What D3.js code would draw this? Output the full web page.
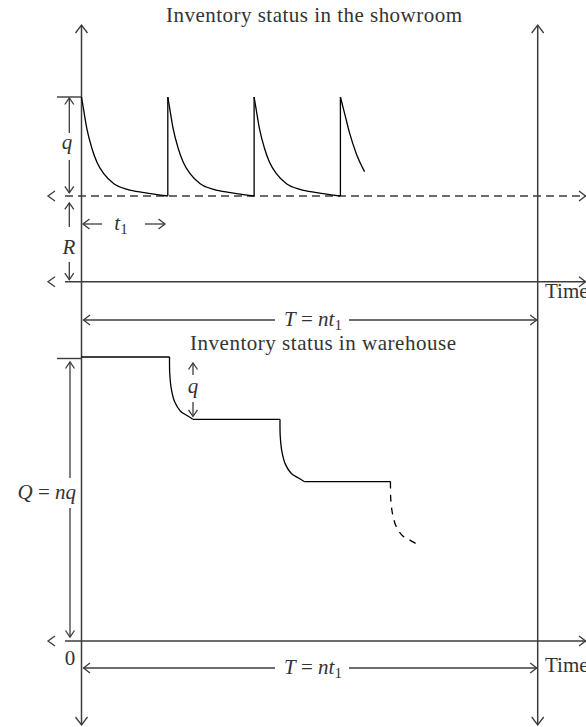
<!DOCTYPE html>
<html lang="en">
<head>
<meta charset="UTF-8">
<title>Inventory status</title>
<script src="https://d3js.org/d3.v7.min.js"></script>
<style>
  body { margin: 0; background: #fff; }
  svg { display: block; }
  text { font-family: 'Liberation Serif', 'Times New Roman', serif; fill: #333; font-size: 21px; }
  .it { font-style: italic; }
</style>
</head>
<body>
<svg id="chart" width="586" height="727"></svg>
<script>
// --- data ---
// time in units of t1, stock in units of q
const T_END = 5.286;            // T = n t1
const R_LEVEL = 0.866;          // reorder level in the showroom
const Q_ORDER = 1;              // lot size q
const showroomCycles = [0, 1, 2];   // full saw-teeth start here
const decayT = [0, 0.023, 0.062, 0.121, 0.179, 0.258, 0.375, 0.531, 0.727, 1];
const decayH = [1, 0.88, 0.68, 0.48, 0.34, 0.225, 0.124, 0.067, 0.034, 0];
const lastCycleStart = 3;
const lastT = [0, 0.047, 0.105, 0.183, 0.28];
const lastH = [1, 0.84, 0.64, 0.43, 0.246];

const WH_TOTAL = 4.56;          // Q = nq
const whLevels = [4.56, 3.56, 2.56, 1.56];
const whDropStart = [1.02, 2.30, 3.58];
const whDropLen = [0.27, 0.28, 0.30];
const dropDx = [0, 0.01, 0.08, 0.22, 0.47, 0.75, 1];
const dropDy = [0, 0.27, 0.52, 0.72, 0.87, 0.94, 1];

// --- scales ---
const x = d3.scaleLinear().domain([0, T_END]).range([81.5, 537.7]);
const yS = d3.scaleLinear().domain([0, R_LEVEL + Q_ORDER]).range([281.7, 97]);
const yW = d3.scaleLinear().domain([0, WH_TOTAL]).range([641, 357]);

const svg = d3.select('#chart');
const axisColor = '#3c3c3c';

// open chevron arrow head, tip at (px,py), pointing at angle deg (0 = right)
const chevron = (px, py, angle, half = 5, len = 6.5) => {
    svg.append('path')
        .attr('d', `M${-len},${-half}L0,0L${-len},${half}`)
        .attr('transform', `translate(${px},${py}) rotate(${angle})`)
        .attr('fill', 'none')
        .attr('stroke', axisColor)
        .attr('stroke-width', 1.3);
};

const seg = (x1, y1, x2, y2, w = 1.4, color = axisColor, dash = null) => {
    svg.append('line')
        .attr('x1', x1).attr('y1', y1).attr('x2', x2).attr('y2', y2)
        .attr('stroke', color).attr('stroke-width', w)
        .attr('stroke-dasharray', dash);
};

// --- axes ---
const x0 = x(0), xT = x(T_END);
[x0, xT].forEach(v => {
    seg(v, 25, v, 725, 1.5);
    chevron(v, 25, -90, 6, 8);
    chevron(v, 725, 90, 6, 8);
});

// horizontal axes: showroom time axis, reorder line, warehouse time axis
const hAxes = [
    { y: yS(0), dash: null },
    { y: yS(R_LEVEL), dash: '8,5' },
    { y: yW(0), dash: null }
];
hAxes.forEach(a => {
    seg(65, a.y, 586, a.y, 1.5, axisColor, a.dash);
    chevron(585.5, a.y, 0, 5, 6.5);
    chevron(48, a.y, 180, 5, 7);
});

// top ticks
seg(57, yS(R_LEVEL + Q_ORDER), x0, yS(R_LEVEL + Q_ORDER), 1.4);
seg(57, yW(WH_TOTAL) + 1.5, x0, yW(WH_TOTAL) + 1.5, 1.4);

// --- showroom saw-tooth ---
const decayLine = d3.line()
    .x(d => x(d[0]))
    .y(d => yS(R_LEVEL + d[1] * Q_ORDER))
    .curve(d3.curveMonotoneX);

showroomCycles.forEach(c => {
    const pts = decayT.map((t, i) => [c + t, decayH[i]]);
    svg.append('path').attr('d', decayLine(pts))
        .attr('fill', 'none').attr('stroke', '#000').attr('stroke-width', 1.3);
    // replenishment jump
    seg(x(c + 1), yS(R_LEVEL), x(c + 1), yS(R_LEVEL + Q_ORDER), 1.3, '#000');
});
const lastPts = lastT.map((t, i) => [lastCycleStart + t, lastH[i]]);
svg.append('path').attr('d', decayLine(lastPts))
    .attr('fill', 'none').attr('stroke', '#000').attr('stroke-width', 1.3);

// --- warehouse staircase ---
const whLine = d3.line().x(d => x(d[0])).y(d => yW(d[1]));
const dropLine = d3.line().x(d => x(d[0])).y(d => yW(d[1])).curve(d3.curveCatmullRom);

whLevels.slice(0, 3).forEach((lvl, i) => {
    const tFrom = i === 0 ? 0 : whDropStart[i - 1] + whDropLen[i - 1];
    svg.append('path').attr('d', whLine([[tFrom, lvl], [whDropStart[i], lvl]]))
        .attr('fill', 'none').attr('stroke', '#000').attr('stroke-width', 1.3);
});
whDropStart.forEach((t0, i) => {
    const pts = dropDx.map((dx, k) => [t0 + dx * whDropLen[i], whLevels[i] - dropDy[k] * (whLevels[i] - whLevels[i + 1])]);
    svg.append('path').attr('d', dropLine(pts))
        .attr('fill', 'none').attr('stroke', '#000').attr('stroke-width', 1.3)
        .attr('stroke-dasharray', i === whDropStart.length - 1 ? '7,6' : null);
});

// --- dimension arrows with labels ---
// vertical double arrow with a gap for the label
const vDim = (px, yTop, yGapTop, yGapBot, yBot) => {
    seg(px, yTop, px, yGapTop, 1.3);
    seg(px, yGapBot, px, yBot, 1.3);
    chevron(px, yTop, -90, 4.5, 6.5);
    chevron(px, yBot, 90, 4.5, 6.5);
};
vDim(69.3, yS(R_LEVEL + Q_ORDER) + 1, 133, 160, yS(R_LEVEL) - 3);
vDim(69.3, yS(R_LEVEL) + 7, 227, 262, yS(0) - 2);
vDim(70, yW(WH_TOTAL) + 5, 478, 508, yW(0) - 4);
vDim(193, yW(whLevels[0]) + 6, 375, 402, yW(whLevels[1]) - 3);

// horizontal T = n t1 arrows
[320, 668].forEach(yy => {
    seg(x0 + 2, yy, 275, yy, 1.3);
    seg(349, yy, xT - 1, yy, 1.3);
    chevron(x0 + 2, yy, 180, 5, 6.5);
    chevron(xT - 1, yy, 0, 5, 6.5);
    const t = svg.append('text').attr('x', 313).attr('y', yy + 6).attr('text-anchor', 'middle');
    t.append('tspan').attr('class', 'it').text('T');
    t.append('tspan').text(' = ');
    t.append('tspan').attr('class', 'it').text('nt');
    t.append('tspan').attr('font-size', 15).attr('dy', 4).text('1');
});

// t1 arrows
seg(83, 224, 102, 224, 1.3); chevron(83, 224, 180, 5, 6.5);
seg(145, 224, 165, 224, 1.3); chevron(165, 224, 0, 5, 6.5);
const t1 = svg.append('text').attr('x', 121).attr('y', 230).attr('text-anchor', 'middle');
t1.append('tspan').attr('class', 'it').text('t');
t1.append('tspan').attr('font-size', 15).attr('dy', 4).text('1');

// --- labels ---
svg.append('text').attr('class', 'it').attr('x', 67).attr('y', 149).attr('text-anchor', 'middle').text('q');
svg.append('text').attr('class', 'it').attr('x', 69).attr('y', 254).attr('text-anchor', 'middle').text('R');
svg.append('text').attr('class', 'it').attr('x', 193).attr('y', 393).attr('text-anchor', 'middle').text('q');
const qnq = svg.append('text').attr('x', 76).attr('y', 499).attr('text-anchor', 'end');
qnq.append('tspan').attr('class', 'it').text('Q');
qnq.append('tspan').text(' = ');
qnq.append('tspan').attr('class', 'it').text('nq');
svg.append('text').attr('x', 70).attr('y', 665).attr('text-anchor', 'middle').text('0');

svg.append('text').attr('x', 545).attr('y', 298).text('Time');
svg.append('text').attr('x', 545).attr('y', 672).text('Time');

svg.append('text').attr('x', 166).attr('y', 22)
    .attr('textLength', 296).attr('lengthAdjust', 'spacing')
    .text('Inventory status in the showroom');
svg.append('text').attr('x', 190).attr('y', 350)
    .attr('textLength', 266).attr('lengthAdjust', 'spacing')
    .text('Inventory status in warehouse');
</script>
</body>
</html>
